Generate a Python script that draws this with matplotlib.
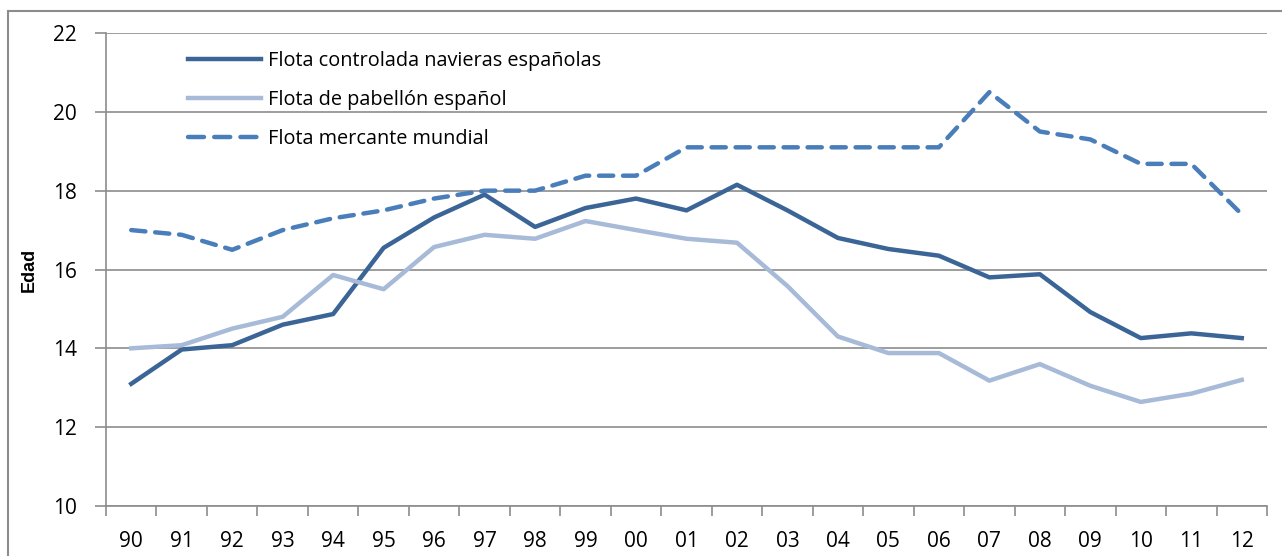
import matplotlib
matplotlib.use("Agg")
import matplotlib.pyplot as plt
from matplotlib.patches import Rectangle
import numpy as np

years = ["90", "91", "92", "93", "94", "95", "96", "97", "98", "99", "00", "01",
         "02", "03", "04", "05", "06", "07", "08", "09", "10", "11", "12"]
controlada = [13.1, 13.97, 14.08, 14.6, 14.87, 16.55, 17.32, 17.9, 17.08, 17.56, 17.8, 17.5,
              18.15, 17.5, 16.8, 16.52, 16.35, 15.8, 15.88, 14.92, 14.26, 14.38, 14.26]
pabellon = [14.0, 14.08, 14.5, 14.8, 15.86, 15.5, 16.57, 16.88, 16.78, 17.23, 17.0, 16.78,
            16.68, 15.58, 14.3, 13.88, 13.88, 13.18, 13.6, 13.05, 12.64, 12.85, 13.2]
mundial = [17.0, 16.88, 16.5, 17.0, 17.3, 17.5, 17.8, 18.0, 18.0, 18.38, 18.38, 19.1,
           19.1, 19.1, 19.1, 19.1, 19.1, 20.5, 19.5, 19.3, 18.68, 18.68, 17.4]
labels = ["Flota controlada navieras españolas", "Flota de pabellón español",
          "Flota mercante mundial"]

plt.rcParams['font.family'] = ['Open Sans', 'DejaVu Sans']

fig = plt.figure(figsize=(12.82, 5.56), dpi=100)
ax = fig.add_axes([106/1282, 50/556, (1267-106)/1282, (506-33)/556])

# outer chart frame (extends beyond the image on the right/bottom)
fig.patches.append(Rectangle((8/1282, -0.1), 1.2, (556-11)/556 + 0.1,
                             transform=fig.transFigure, fill=False,
                             edgecolor="#8c8c8c", linewidth=1.5))

x = np.arange(len(years))
ax.plot(x, controlada, color="#3A6596", lw=3.2, label=labels[0], solid_joinstyle="round")
ax.plot(x, pabellon, color="#A7BAD7", lw=3.2, label=labels[1], solid_joinstyle="round")
ax.plot(x, mundial, color="#4A7EBB", lw=3.2, label=labels[2], dashes=(3.2, 2.2),
        dash_capstyle="round")

ax.set_xlim(-0.5, len(years) - 0.5)
ax.set_ylim(10, 22)
ax.set_yticks(np.arange(10, 23, 2))
ax.set_yticklabels([str(v) for v in range(10, 23, 2)], fontsize=15)
ax.yaxis.grid(True, color="#8c8c8c", lw=1.2)
ax.set_axisbelow(True)

ax.set_xticks(np.arange(-0.5, len(years), 1))
ax.set_xticklabels([])
ax.set_xticks(x, minor=True)
ax.set_xticklabels(years, minor=True, fontsize=15)
ax.tick_params(axis="x", which="major", length=7, color="#8c8c8c", width=1.2, direction="out")
ax.tick_params(axis="x", which="minor", length=0, pad=18)
ax.tick_params(axis="y", length=8, color="#8c8c8c", width=1.2, pad=13)

for s in ["top", "right"]:
    ax.spines[s].set_visible(False)
for s in ["left", "bottom"]:
    ax.spines[s].set_color("#8c8c8c")
    ax.spines[s].set_linewidth(1.2)

ax.set_ylabel("Edad", fontsize=13, fontweight="bold",
              family=["Liberation Sans Narrow", "Liberation Sans"])
ax.yaxis.set_label_coords(-0.059, 0.5)

leg = ax.legend(loc="upper left", bbox_to_anchor=(0.055, 1.0), frameon=False,
                fontsize=14.3, handlelength=3.67, handletextpad=0.35, labelspacing=0.97)
leg_lines = leg.get_lines()
leg_lines[2].set_dashes((3.6, 2.3))
leg_lines[2].set_dash_capstyle("round")

fig.savefig("out.png", dpi=100)
